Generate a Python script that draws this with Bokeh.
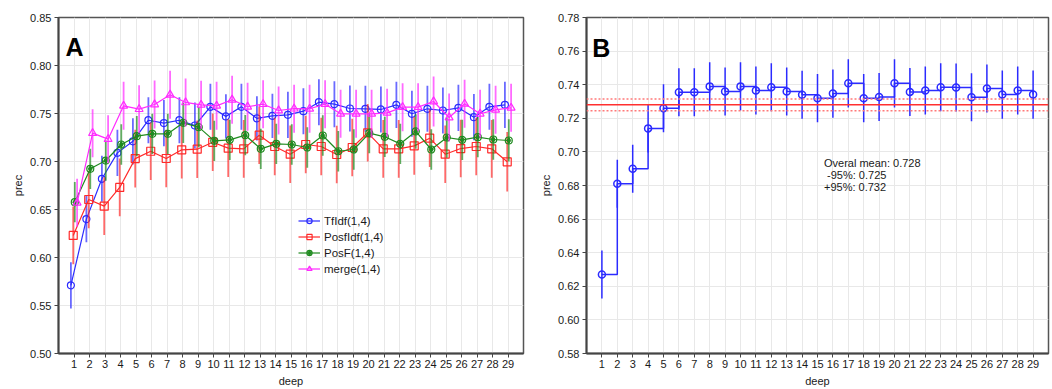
from bokeh.plotting import figure
from bokeh.layouts import row
from bokeh.models import (FixedTicker, Range1d, Span, Label, Legend,
                          LegendItem, PrintfTickFormatter)
from bokeh.embed import file_html
from bokeh.resources import INLINE

# ---------------- data ----------------
deep = list(range(1, 30))

tfidf = [0.571, 0.640, 0.682, 0.709, 0.721, 0.743, 0.740, 0.743, 0.7375, 0.757,
         0.747, 0.757, 0.745, 0.7476, 0.7486, 0.7524, 0.7618, 0.7597, 0.7552, 0.7549,
         0.7542, 0.7590, 0.7497, 0.7549, 0.7531, 0.7559, 0.7462, 0.757, 0.759]
tfidf_err = [0.024, 0.024, 0.024, 0.024, 0.024, 0.024, 0.024, 0.024, 0.024, 0.024,
             0.023, 0.024, 0.023, 0.023, 0.024, 0.024, 0.024, 0.024, 0.024, 0.024,
             0.024, 0.024, 0.024, 0.024, 0.024, 0.024, 0.024, 0.024, 0.024]

posfidf = [0.623, 0.6604, 0.6535, 0.673, 0.703, 0.7107, 0.7031, 0.7122, 0.7128, 0.720,
           0.7139, 0.7132, 0.7274, 0.7156, 0.7076, 0.7177, 0.7156, 0.7073, 0.7146, 0.7299,
           0.7132, 0.7132, 0.7163, 0.7243, 0.7076, 0.7135, 0.7156, 0.7132, 0.6997]
posfidf_err = [0.030, 0.030, 0.030, 0.030, 0.030, 0.030, 0.030, 0.030, 0.030, 0.030,
               0.030, 0.030, 0.030, 0.030, 0.030, 0.030, 0.030, 0.030, 0.030, 0.030,
               0.030, 0.030, 0.030, 0.030, 0.030, 0.030, 0.030, 0.030, 0.031]

posf = [0.6576, 0.6924, 0.7010, 0.7177, 0.7264, 0.7288, 0.7288, 0.7403, 0.7358, 0.7215,
        0.7226, 0.7274, 0.7132, 0.7184, 0.7177, 0.7146, 0.7271, 0.7107, 0.7125, 0.7295,
        0.7257, 0.7184, 0.7313, 0.7125, 0.725, 0.7226, 0.7253, 0.7229, 0.7219]
posf_err = [0.021, 0.021, 0.021, 0.021, 0.021, 0.021, 0.021, 0.021, 0.021, 0.021,
            0.021, 0.021, 0.021, 0.021, 0.021, 0.021, 0.021, 0.021, 0.021, 0.021,
            0.021, 0.021, 0.018, 0.021, 0.021, 0.021, 0.021, 0.021, 0.022]

merge = [0.657, 0.7295, 0.7233, 0.758, 0.7545, 0.7594, 0.7695, 0.7615, 0.759, 0.758,
         0.7643, 0.757, 0.7597, 0.7531, 0.755, 0.7549, 0.7597, 0.7497, 0.7497, 0.7497,
         0.7507, 0.7566, 0.7566, 0.7625, 0.7458, 0.7601, 0.7497, 0.7538, 0.7559]
merge_err = [0.025, 0.025, 0.025, 0.025, 0.025, 0.025, 0.025, 0.025, 0.025, 0.025,
             0.025, 0.025, 0.025, 0.025, 0.025, 0.025, 0.025, 0.025, 0.025, 0.025,
             0.025, 0.025, 0.025, 0.026, 0.025, 0.025, 0.025, 0.025, 0.025]

overall = [0.627, 0.681, 0.690, 0.714, 0.726, 0.7355, 0.7355, 0.739, 0.736, 0.739,
           0.7365, 0.7385, 0.736, 0.734, 0.732, 0.7347, 0.7408, 0.732, 0.7327, 0.7408,
           0.7357, 0.7365, 0.7385, 0.7383, 0.7325, 0.7377, 0.7341, 0.7365, 0.7341]
overall_err = [0.0143, 0.0143, 0.0143, 0.0143, 0.0143, 0.0143, 0.0143, 0.0143, 0.0143, 0.0143,
               0.0143, 0.0143, 0.0143, 0.0143, 0.0143, 0.0143, 0.0143, 0.0143, 0.0143, 0.0143,
               0.0143, 0.0143, 0.0143, 0.0143, 0.0143, 0.0143, 0.0143, 0.0143, 0.0143]

overall_mean = 0.728
overall_lo = 0.7245
overall_hi = 0.7315
mean_texts = ["Overal mean: 0.728", "-95%: 0.725", "+95%: 0.732"]

series_names = ["TfIdf(1,4)", "PosfIdf(1,4)", "PosF(1,4)", "merge(1,4)"]
left_yticks = [0.50, 0.55, 0.60, 0.65, 0.70, 0.75, 0.80, 0.85]
right_yticks = [0.58, 0.60, 0.62, 0.64, 0.66, 0.68, 0.70, 0.72, 0.74, 0.76, 0.78]

FONT = "Liberation Sans"
BLUE = "#2b2bff"
RED = "#ff2a2a"
GREEN = "#1f8a1f"
MAGENTA = "#ff2bff"


def style(p, yticks):
    p.background_fill_color = "white"
    p.border_fill_color = "white"
    p.outline_line_color = "#555555"
    p.outline_line_width = 1.5
    p.xgrid.ticker = FixedTicker(ticks=deep)
    p.ygrid.ticker = FixedTicker(ticks=yticks)
    for g in (p.xgrid[0], p.ygrid[0]):
        g.grid_line_color = "#e8e8e8"
        g.grid_line_width = 1
    xa = p.xaxis[0]
    xa.ticker = FixedTicker(ticks=deep)
    ya = p.yaxis[0]
    ya.ticker = FixedTicker(ticks=yticks)
    ya.formatter = PrintfTickFormatter(format="%.2f")
    for a in (xa, ya):
        a.axis_line_color = "#444444"
        a.axis_line_width = 2
        a.major_tick_line_color = "#444444"
        a.major_tick_out = 4
        a.major_tick_in = 0
        a.minor_tick_line_color = None
        a.major_label_text_font = FONT
        a.major_label_text_font_size = "11px"
        a.major_label_text_color = "#1a1a1a"
        a.axis_label_text_font = FONT
        a.axis_label_text_font_size = "11px"
        a.axis_label_text_font_style = "normal"
        a.axis_label_text_color = "#1a1a1a"
    xa.axis_label = "deep"
    xa.major_label_standoff = 2
    xa.axis_label_standoff = 4
    ya.axis_label = "prec"
    ya.major_label_standoff = 3
    ya.axis_label_standoff = 3


# ---------------- panel A ----------------
p1 = figure(width=537, height=389, output_backend="svg", toolbar_location=None,
            x_range=Range1d(0, 30), y_range=Range1d(0.50, 0.85),
            min_border_left=58, min_border_right=14, min_border_top=17, min_border_bottom=36)
style(p1, left_yticks)

specs = [
    (tfidf, tfidf_err, BLUE, -0.2, "circle", 7),
    (posfidf, posfidf_err, RED, -0.05, "square", 8),
    (posf, posf_err, GREEN, 0.05, "circle", 7),
    (merge, merge_err, MAGENTA, 0.2, "triangle", 8),
]
items = []
for (vals, errs, col, off, mk, sz), name in zip(specs, series_names):
    xs = [d + off for d in deep]
    lo = [v - e for v, e in zip(vals, errs)]
    hi = [v + e for v, e in zip(vals, errs)]
    p1.segment(x0=xs, y0=lo, x1=xs, y1=hi, line_color=col, line_width=1.8, line_alpha=0.7)
    ln = p1.line(xs, vals, line_color=col, line_width=1.2)
    sc = p1.scatter(xs, vals, marker=mk, size=sz, fill_color=None, line_color=col, line_width=1.2)
    rends = [ln, sc]
    if col == GREEN:
        d2 = p1.scatter(xs, vals, marker="diamond", size=6, fill_color=col, line_color=col)
        rends.append(d2)
    items.append(LegendItem(label=name, renderers=rends))

legend = Legend(items=items, location=(240, 78), border_line_color=None,
                background_fill_alpha=0, padding=0, margin=0, spacing=3,
                label_height=13, glyph_height=13, glyph_width=22, label_standoff=4,
                label_text_font=FONT, label_text_font_size="11.5px",
                label_text_color="#1a1a1a")
p1.add_layout(legend)

p1.add_layout(Label(x=0.45, y=0.8188, text="A", text_font=FONT, text_font_size="25px",
                    text_font_style="bold", text_color="black", text_baseline="alphabetic"))

# ---------------- panel B ----------------
p2 = figure(width=514, height=389, output_backend="svg", toolbar_location=None,
            x_range=Range1d(0, 30), y_range=Range1d(0.58, 0.78),
            min_border_left=48, min_border_right=3, min_border_top=17, min_border_bottom=36)
style(p2, right_yticks)

for loc, col, dash in ((overall_lo, "#ff7a7a", "2 2"), (overall_hi, "#ff7a7a", "2 2"),
                       (overall_mean, "#ff3030", "solid")):
    p2.add_layout(Span(location=loc, dimension="width", line_color=col,
                       line_width=1.5, line_dash=dash))

lo_b = [v - e for v, e in zip(overall, overall_err)]
hi_b = [v + e for v, e in zip(overall, overall_err)]
p2.segment(x0=deep, y0=lo_b, x1=deep, y1=hi_b, line_color=BLUE, line_width=1.5)
p2.step(deep, overall, mode="after", line_color=BLUE, line_width=1.5)
p2.scatter(deep, overall, marker="circle", size=7, fill_color=None, line_color=BLUE, line_width=1.5)

for i, t in enumerate(mean_texts):
    xoff = 0.2 if t.startswith("-") else 0.0
    p2.add_layout(Label(x=15.42 + xoff, y=0.6934 - i * 0.0071, text=t, text_font=FONT,
                        text_font_size="11px", text_color="#1a1a1a", text_baseline="middle"))

p2.add_layout(Label(x=0.37, y=0.7616, text="B", text_font=FONT, text_font_size="25px",
                    text_font_style="bold", text_color="black", text_baseline="alphabetic"))

layout = row(p1, p2)
open("out.html", "w").write(file_html(layout, INLINE))
